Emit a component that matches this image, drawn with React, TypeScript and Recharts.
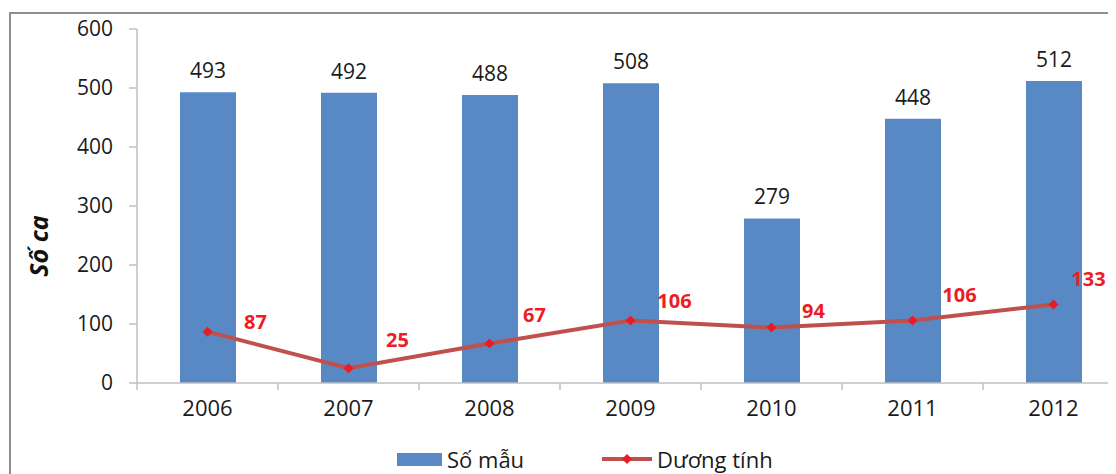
import {
  Bar,
  ComposedChart,
  LabelList,
  Legend,
  Line,
  XAxis,
  YAxis,
} from "recharts";

const years = ["2006", "2007", "2008", "2009", "2010", "2011", "2012"];
const sampleCounts = [493, 492, 488, 508, 279, 448, 512];
const positiveCounts = [87, 25, 67, 106, 94, 106, 133];
const yTicks = [0, 100, 200, 300, 400, 500, 600];

// hand-placed offsets of the red value labels, relative to each point
const positiveLabelNudge: [number, number][] = [
  [48, -10],
  [49, -28],
  [45, -28],
  [44, -19],
  [42, -17],
  [47, -25],
  [35, -26],
];

const data = years.map((year, i) => ({
  year,
  samples: sampleCounts[i],
  positive: positiveCounts[i],
}));

const FONT = "'Open Sans', 'Noto Sans', sans-serif";
const BAR_BLUE = "#5889C4";
const LINE_RED = "#C0504D";
const DOT_RED = "#E81C24";
const AXIS_GREY = "#BFBFBF";
const X_TICK_MARGIN = 17;

const Diamond = ({ cx, cy }: { cx?: number; cy?: number }) => {
  if (cx == null || cy == null) return null;
  const r = 5;
  return (
    <path
      d={`M${cx},${cy - r}L${cx + r},${cy}L${cx},${cy + r}L${cx - r},${cy}Z`}
      fill={DOT_RED}
    />
  );
};

// year label plus a small tick mark on the left edge of its band
const YearTick = (props: any) => {
  const { x, y, payload, index, visibleTicksCount } = props;
  const half = payload.offset ?? 0;
  const axisY = y - X_TICK_MARGIN;
  const marks = [x - half];
  if (index === visibleTicksCount - 1) marks.push(x + half);
  return (
    <g>
      {marks.map((mx) => (
        <line
          key={mx}
          x1={mx}
          x2={mx}
          y1={axisY}
          y2={axisY + 7}
          stroke={AXIS_GREY}
          strokeWidth={1.5}
        />
      ))}
      <text
        x={x}
        y={y}
        dy="0.71em"
        textAnchor="middle"
        fill="#1a1a1a"
        fontSize={22}
        fontFamily={FONT}
      >
        {payload.value}
      </text>
    </g>
  );
};

const PositiveLabel = (props: any) => {
  const { x, y, value, index } = props;
  const [dx, dy] = positiveLabelNudge[index] ?? [45, -22];
  return (
    <text
      x={x + dx}
      y={y + dy + 7}
      textAnchor="middle"
      fill="#EE1C25"
      fontSize={20}
      fontWeight={700}
      fontFamily={FONT}
    >
      {value}
    </text>
  );
};

const AxisTitle = (props: any) => {
  const { viewBox } = props;
  const x = viewBox.x + 30;
  const y = viewBox.y + viewBox.height / 2 + 40;
  return (
    <text
      x={x}
      y={y}
      transform={`rotate(-90 ${x} ${y})`}
      textAnchor="middle"
      dominantBaseline="central"
      fontSize={25}
      fontWeight={700}
      fontStyle="italic"
      fill="#111"
      fontFamily={FONT}
    >
      Số ca
    </text>
  );
};

const LegendContent = (props: any) => {
  const payload = [...(props.payload ?? [])].sort(
    (a: any, b: any) => (a.type === "line" ? 1 : 0) - (b.type === "line" ? 1 : 0)
  );
  return (
    <div
      style={{
        display: "flex",
        alignItems: "center",
        height: 30,
        fontFamily: FONT,
        fontSize: 22,
        color: "#1a1a1a",
      }}
    >
      {payload.map((entry: any) =>
        entry.type === "line" ? (
          <div key={entry.value} style={{ display: "flex", alignItems: "center" }}>
            <svg width={50} height={14} style={{ marginRight: 5 }}>
              <line x1={0} y1={7} x2={50} y2={7} stroke={LINE_RED} strokeWidth={4} />
              <Diamond cx={25} cy={7} />
            </svg>
            <span>{entry.value}</span>
          </div>
        ) : (
          <div
            key={entry.value}
            style={{ display: "flex", alignItems: "center", marginRight: 78 }}
          >
            <span
              style={{
                display: "inline-block",
                width: 45,
                height: 13,
                background: BAR_BLUE,
                marginRight: 5,
              }}
            />
            <span>{entry.value}</span>
          </div>
        )
      )}
    </div>
  );
};

export default function App() {
  return (
    <div style={{ position: "relative", width: 1108, height: 466, overflow: "hidden" }}>
      <style>{`body{overflow:hidden}`}</style>
      <div
        style={{
          position: "absolute",
          left: 1,
          top: 4,
          width: 1300,
          height: 700,
          borderLeft: "2px solid #8E8E8E",
          borderTop: "2px solid #8E8E8E",
        }}
      />
      <div style={{ position: "absolute", left: 0, top: 0 }}>
        <ComposedChart
          width={1140}
          height={466}
          data={data}
          margin={{ top: 21, right: 24, bottom: 0, left: 0 }}
          style={{ fontFamily: FONT }}
        >
          <XAxis
            dataKey="year"
            height={61}
            axisLine={{ stroke: AXIS_GREY, strokeWidth: 1.5 }}
            tickLine={false}
            tickSize={0}
            tickMargin={X_TICK_MARGIN}
            interval={0}
            tick={<YearTick />}
          />
          <YAxis
            domain={[0, 600]}
            ticks={yTicks}
            interval={0}
            width={129}
            tickSize={8}
            tickMargin={16}
            axisLine={{ stroke: AXIS_GREY, strokeWidth: 1.5 }}
            tickLine={{ stroke: AXIS_GREY, strokeWidth: 1.5 }}
            tick={{ fill: "#1a1a1a", fontSize: 21 }}
            label={{ content: AxisTitle }}
          />
          <Legend
            verticalAlign="bottom"
            content={LegendContent}
            wrapperStyle={{ left: 389, width: 460, height: 30 }}
          />
          <Bar
            dataKey="samples"
            name="Số mẫu"
            fill={BAR_BLUE}
            barSize={56}
            legendType="rect"
            isAnimationActive={false}
          >
            <LabelList
              dataKey="samples"
              position="top"
              offset={14}
              fill="#1a1a1a"
              fontSize={21}
              fontFamily={FONT}
            />
          </Bar>
          <Line
            dataKey="positive"
            name="Dương tính"
            stroke={LINE_RED}
            strokeWidth={4}
            dot={<Diamond />}
            activeDot={false}
            legendType="line"
            isAnimationActive={false}
          >
            <LabelList dataKey="positive" content={PositiveLabel} />
          </Line>
        </ComposedChart>
      </div>
    </div>
  );
}
